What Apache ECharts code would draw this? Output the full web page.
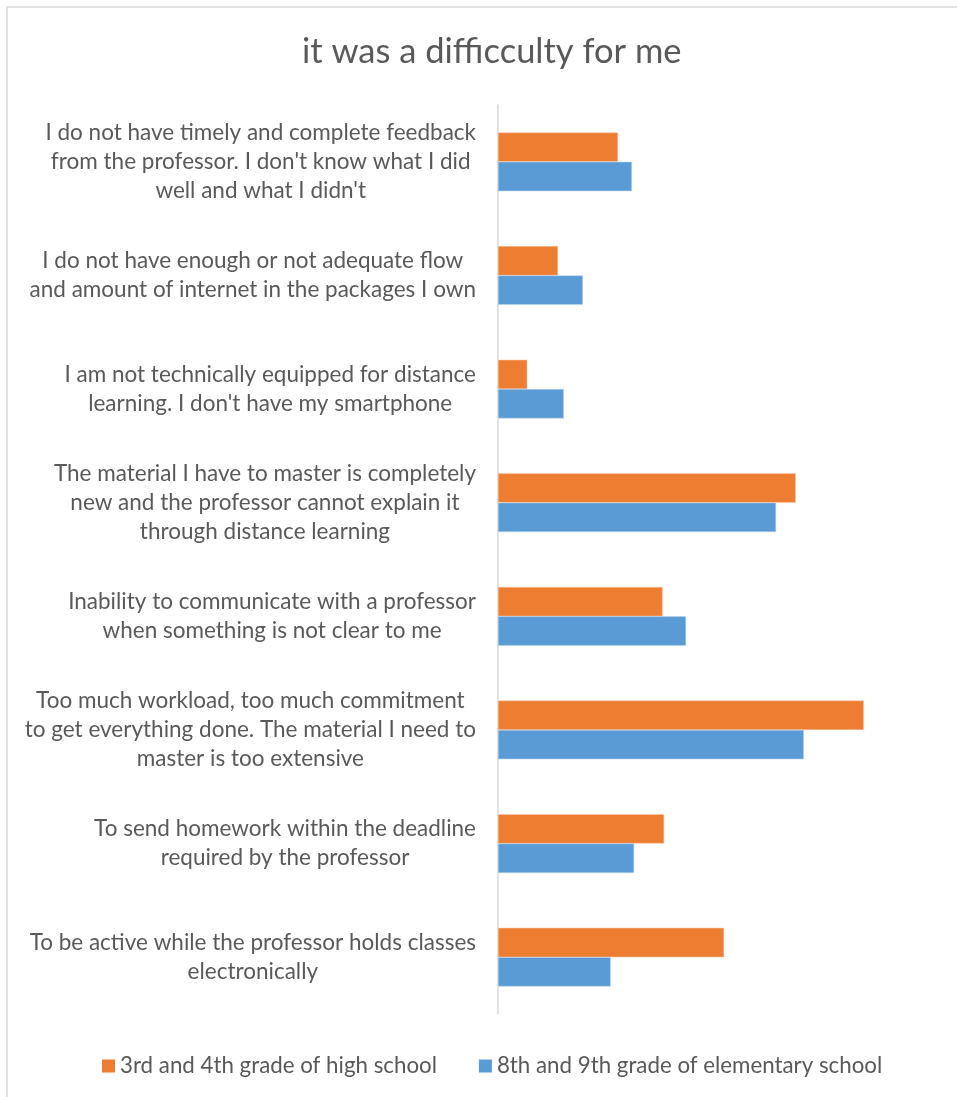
<!DOCTYPE html>
<html>
<head>
<meta charset="utf-8">
<script src="https://cdn.jsdelivr.net/npm/echarts@6/dist/echarts.min.js"></script>
<style>
  html, body { margin: 0; padding: 0; background: #fff; }
  #chart { width: 957px; height: 1097px; }
</style>
</head>
<body>
<div id="chart"></div>
<script>
// Survey statements (top to bottom), with line breaks as laid out on the axis
const categories = [
  "I do not have timely and complete feedback\nfrom the professor. I don't know what I did\nwell and what I didn't",
  "I do not have enough or not adequate flow\nand amount of internet in the packages I own",
  "I am not technically equipped for distance\nlearning. I don't have my smartphone",
  "The material I have to master is completely\nnew and the professor cannot explain it\nthrough distance learning",
  "Inability to communicate with a professor\nwhen something is not clear to me",
  "Too much workload, too much commitment\nto get everything done. The material I need to\nmaster is too extensive",
  "To send homework within the deadline\nrequired by the professor",
  "To be active while the professor holds classes\nelectronically"
];

const seriesNames = [
  "3rd and 4th grade of high school",
  "8th and 9th grade of elementary school"
];

// Share of respondents (%) per group
const highSchool = [16.4, 8.2, 4.0, 40.7, 22.5, 50.0, 22.7, 30.9];
const elementary = [18.3, 11.6, 9.0, 38.0, 25.7, 41.8, 18.6, 15.4];

const FONT = "Lato, 'Open Sans', sans-serif";
const TEXT = '#595959';
const LABEL_SIZE = 22.5;

const chart = echarts.init(document.getElementById('chart'), null, { renderer: 'canvas' });

chart.setOption({
  animation: false,
  backgroundColor: '#ffffff',
  textStyle: { fontFamily: FONT },
  title: {
    text: 'it was a difficculty for me',
    left: 297,
    top: 29,
    textStyle: { fontFamily: FONT, fontSize: 34.5, fontWeight: 'normal', color: TEXT }
  },
  // chart frame: top and left edges
  graphic: [
    {
      type: 'polyline',
      shape: { points: [[7, 1097], [7, 7], [957, 7]] },
      style: { fill: 'none', stroke: '#d9d9d9', lineWidth: 1.5 },
      silent: true
    }
  ],
  legend: {
    bottom: 15,
    left: 97,
    itemWidth: 13,
    itemHeight: 13,
    itemGap: 42,
    icon: 'rect',
    itemStyle: { borderWidth: 0 },
    textStyle: { fontFamily: FONT, fontSize: 22.3, color: TEXT },
    data: seriesNames
  },
  grid: { left: 498, right: 20, top: 105, bottom: 83 },
  xAxis: {
    type: 'value',
    min: 0,
    max: 60,
    show: false
  },
  yAxis: {
    type: 'category',
    inverse: true,
    data: categories,
    axisLine: { lineStyle: { color: '#d9d9d9', width: 1.5 } },
    axisTick: { show: false },
    axisLabel: {
      margin: 22,
      color: TEXT,
      fontFamily: FONT,
      fontSize: LABEL_SIZE,
      lineHeight: 29,
      formatter: function (v) {
        return v.split('\n').map(function (l) { return '{c|' + l + '}'; }).join('\n');
      },
      rich: {
        c: { align: 'center', fontFamily: FONT, fontSize: LABEL_SIZE, lineHeight: 29, color: TEXT }
      }
    }
  },
  series: [
    {
      name: seriesNames[0],
      type: 'bar',
      data: highSchool,
      barGap: '0%',
      barCategoryGap: '48.4%',
      itemStyle: { color: '#ED7D31', borderColor: '#f6c9ab', borderWidth: 0.5 }
    },
    {
      name: seriesNames[1],
      type: 'bar',
      data: elementary,
      barGap: '0%',
      barCategoryGap: '48.4%',
      itemStyle: { color: '#5B9BD5', borderColor: '#b9d3ec', borderWidth: 0.5 }
    }
  ]
});
</script>
</body>
</html>
